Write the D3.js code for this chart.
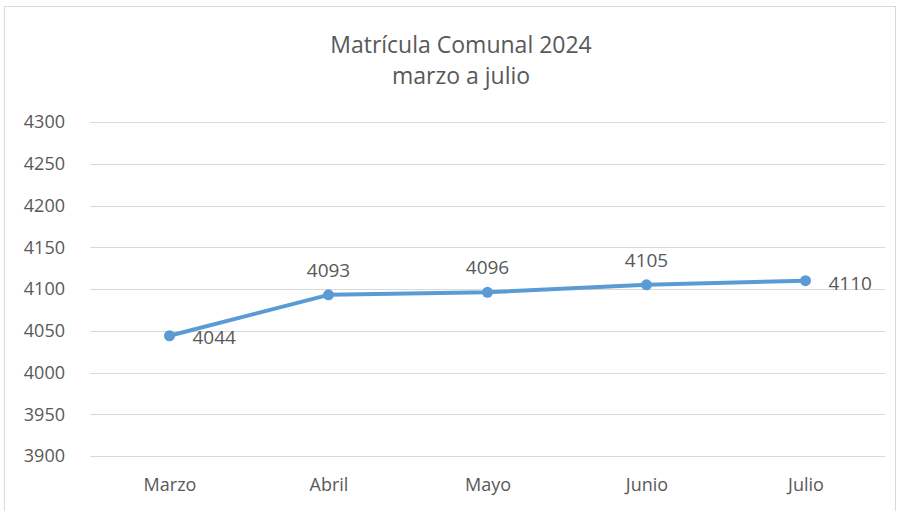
<!DOCTYPE html>
<html>
<head>
<meta charset="utf-8">
<script src="https://cdn.jsdelivr.net/npm/d3@7"></script>
<style>
  body { margin: 0; background: #fff; }
  text { font-family: "Open Sans", Lato, sans-serif; fill: #595959; }
</style>
</head>
<body>
<div id="chart"></div>
<script>
const months = ["Marzo", "Abril", "Mayo", "Junio", "Julio"]
const enrolment = [4044, 4093, 4096, 4105, 4110]
const yTicks = [3900, 3950, 4000, 4050, 4100, 4150, 4200, 4250, 4300]
const titleLines = ["Matrícula Comunal 2024", "marzo a julio"]

const width = 900, height = 511
const margin = {top: 122, right: 15, bottom: 55, left: 90}

const svg = d3.select("#chart").append("svg")
    .attr("width", width)
    .attr("height", height)

// chart frame
svg.append("rect")
    .attr("x", 4.5).attr("y", 6.5)
    .attr("width", 891).attr("height", 520)
    .attr("fill", "none")
    .attr("stroke", "#d9d9d9")

const x = d3.scalePoint()
    .domain(months)
    .range([margin.left, width - margin.right])
    .padding(0.5)

const y = d3.scaleLinear()
    .domain([3900, 4300])
    .range([456, margin.top])

// gridlines
svg.append("g")
    .selectAll("line")
    .data(yTicks)
    .enter()
    .append("line")
    .attr("x1", margin.left)
    .attr("x2", width - margin.right)
    .attr("y1", d => Math.round(y(d)) + 0.5)
    .attr("y2", d => Math.round(y(d)) + 0.5)
    .attr("stroke", "#d9d9d9")

const yAxis = svg.append("g")
    .attr("transform", "translate(" + 65 + ",0)")
    .call(d3.axisLeft(y).tickValues(yTicks).tickFormat(d3.format("d")).tickSize(0).tickPadding(0))
yAxis.select(".domain").remove()
yAxis.selectAll("text")
    .style("font-size", "18px")
    .attr("fill", "#595959")

const xAxis = svg.append("g")
    .attr("transform", "translate(0," + 478 + ")")
    .call(d3.axisBottom(x).tickSize(0).tickPadding(0))
xAxis.select(".domain").remove()
xAxis.selectAll("text")
    .style("font-size", "18px")
    .attr("fill", "#595959")

// title
svg.append("g")
    .selectAll("text")
    .data(titleLines)
    .enter()
    .append("text")
    .attr("x", 461)
    .attr("y", (d, i) => 53 + i * 31)
    .attr("text-anchor", "middle")
    .style("font-size", "23px")
    .text(d => d)

const points = months.map((m, i) => ({month: m, value: enrolment[i]}))

svg.append("path")
    .datum(points)
    .attr("fill", "none")
    .attr("stroke", "#5b9bd5")
    .attr("stroke-width", 4)
    .attr("stroke-linejoin", "round")
    .attr("stroke-linecap", "round")
    .attr("d", d3.line().x(d => x(d.month)).y(d => y(d.value)))

svg.append("g")
    .selectAll("circle")
    .data(points)
    .enter()
    .append("circle")
    .attr("cx", d => x(d.month))
    .attr("cy", d => y(d.value))
    .attr("r", 5.5)
    .attr("fill", "#5b9bd5")

// data labels: first and last sit to the right, the rest above
const lastIdx = points.length - 1
svg.append("g")
    .selectAll("text")
    .data(points)
    .enter()
    .append("text")
    .attr("x", (d, i) => (i == 0 || i == lastIdx) ? x(d.month) + 23 : x(d.month))
    .attr("y", (d, i) => i == 0 ? y(d.value) + 8 : (i == lastIdx ? y(d.value) + 9 : y(d.value) - 18))
    .attr("text-anchor", (d, i) => (i == 0 || i == lastIdx) ? "start" : "middle")
    .style("font-size", "19px")
    .attr("fill", "#404040")
    .text(d => d.value)
</script>
</body>
</html>
